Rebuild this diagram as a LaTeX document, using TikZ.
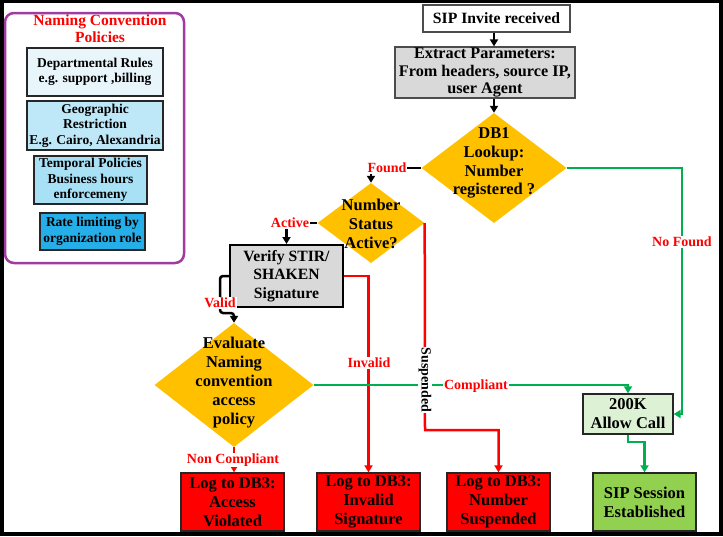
\documentclass[tikz,border=0pt]{standalone}
\usepackage{fontspec}
\setmainfont{Liberation Serif}
\usetikzlibrary{shapes.geometric,arrows.meta}
\definecolor{orangeC}{HTML}{FFC000}
\definecolor{greenC}{HTML}{00B050}
\definecolor{purpleC}{HTML}{A03CA0}
\definecolor{grayC}{HTML}{D9D9D9}
\definecolor{blueA}{HTML}{E8F6FC}
\definecolor{blueB}{HTML}{BEE8F8}
\definecolor{blueC}{HTML}{A8E0F5}
\definecolor{blueD}{HTML}{25AEE8}
\definecolor{lgreen}{HTML}{DDF2D5}
\definecolor{sgreen}{HTML}{92D050}
\definecolor{edgeC}{HTML}{262626}
\tikzset{
  fs/.style 2 args={font=\bfseries\fontsize{#1}{#2}\selectfont},
  box/.style={draw=edgeC, line width=1.3pt, inner sep=0pt, align=center, fs={16.5}{19}},
  pbox/.style={draw=edgeC, line width=1.3pt, inner sep=0pt, align=center, fs={13.5}{15.5}},
  txt/.style={align=center, inner sep=0pt, fs={16.5}{18.8}},
  dia/.style={diamond, fill=orangeC, draw=none, inner sep=0pt},
  lab/.style={text=red, fill=white, inner sep=1pt, fs={14}{16}},
  conn/.style={line width=2.5pt, -{Triangle[length=7pt,width=8pt]}},
}
\begin{document}
\begin{tikzpicture}[x=1pt,y=-1pt]
\useasboundingbox (0,0) rectangle (723,536);
\fill[black] (0,0) rectangle (723,536);
\fill[white] (4,3) rectangle (719,532);

% left panel
\draw[purpleC, line width=2.5pt, rounded corners=9pt] (5,13) rectangle (184,263);
\node[text=red, align=center, inner sep=0pt, fs={15.5}{17}] (ttl) at (100,29) {Naming Convention\\Policies};
\node[pbox, fill=blueA, minimum width=136, minimum height=48] (b1) at (95,72) {Departmental Rules\\e.g. support ,billing};
\node[pbox, fill=blueB, minimum width=136, minimum height=49] (b2) at (95,125.5) {Geographic\\Restriction\\E.g. Cairo, Alexandria};
\node[pbox, fill=blueC, minimum width=113, minimum height=48] (b3) at (90.5,180) {Temporal Policies\\Business hours\\enforcemeny};
\node[pbox, fill=blueD, minimum width=105, minimum height=37] (b4) at (92.5,231.5) {Rate limiting by\\organization role};

% main flow
\node[box, fs={15.7}{18}, fill=white, draw=black!70, minimum width=147, minimum height=27] (sip) at (496.5,18.5) {SIP Invite received};
\node[box, fs={16.2}{17.5}, fill=grayC, draw=black!70, minimum width=180, minimum height=51] (ext) at (485,72.5) {Extract Parameters:\\From headers, source IP,\\user Agent};
\node[dia, minimum width=145, minimum height=110] (db1) at (494,168) {};
\node[txt] (db1t) at (494,163) {DB1\\Lookup:\\Number\\registered ?};
\node[dia, minimum width=107, minimum height=80] (ns) at (371,223) {};
\node[txt] (nst) at (371,224) {Number\\Status\\Active?};
\node[box, fs={15.7}{18.5}, fill=grayC, draw=black, line width=2pt, minimum width=113, minimum height=62] (ver) at (286.5,276) {Verify STIR/\\SHAKEN\\Signature};
\node[dia, minimum width=159, minimum height=124] (ev) at (234,385) {};
\node[txt, fs={16.5}{19}] (evt) at (234,383) {Evaluate\\Naming\\convention\\access\\policy};
\node[box, fill=red, minimum width=103, minimum height=58] (logA) at (232.5,502) {Log to DB3:\\Access\\Violated};
\node[box, fill=red, minimum width=103, minimum height=58] (logI) at (368.5,502) {Log to DB3:\\Invalid\\Signature};
\node[box, fill=red, minimum width=103, minimum height=58] (logS) at (498.5,502) {Log to DB3:\\Number\\Suspended};
\node[box, fill=lgreen, minimum width=90, minimum height=40] (ok) at (628,414) {200K\\Allow Call};
\node[box, fill=sgreen, minimum width=103, minimum height=58] (ses) at (644.5,502) {SIP Session\\Established};

\coordinate (sj) at (425,430);
\coordinate (vj) at (220,313);
\coordinate (nf) at (682,414);
\coordinate (oj) at (628,442);

% connectors
\draw[conn] (sip.south -| db1.north) -- (ext.north -| db1.north);
\draw[conn] (ext.south -| db1.north) -- (db1.north);
\draw[conn] (db1.west) -| (ns.north);
\draw[conn] (ns.west) -| (ver.north);
\draw[conn, red] (ver.east) -| (logI.north);
\draw[conn, red] (ns.east) -- (sj) -| (logS.north);
\draw[conn, rounded corners=3pt] (ver.west) -| (vj) -| (ev.north);
\draw[conn, greenC] (ev.east) -| (ok.north);
\draw[conn, greenC] (db1.east) -| (nf) -- (ok.east);
\draw[conn, red] (ev.south) -- (ev.south |- logA.north);
\draw[conn, greenC] (ok.south) -- (oj) -| (ses.north);

% labels
\node[lab] (lfound) at (387,168) {Found};
\node[lab] (lactive) at (290,223) {Active};
\node[lab] (linvalid) at (369,363) {Invalid};
\node[lab, text=black, rotate=-90] (lsusp) at (425,380) {Suspended};
\node[lab] (lvalid) at (220,303) {Valid};
\node[lab] (lcomp) at (476,386) {Compliant};
\node[lab] (lnf) at (682,242) {No Found};
\node[lab] (lnc) at (233,460) {Non Compliant};
\end{tikzpicture}
\end{document}
